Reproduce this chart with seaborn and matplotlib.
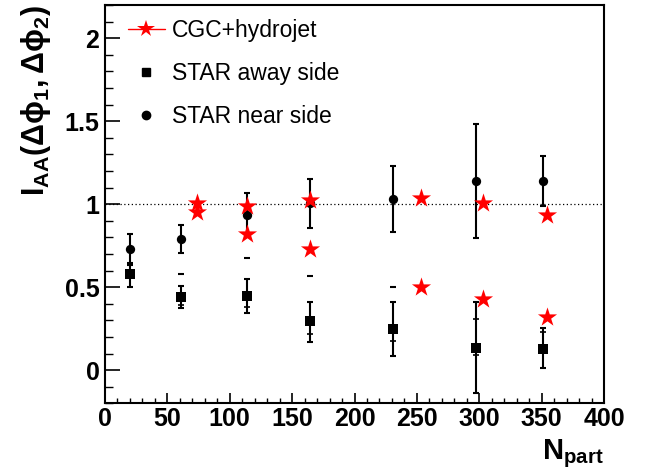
import matplotlib
matplotlib.use("Agg")
import matplotlib.pyplot as plt
from matplotlib.lines import Line2D
from matplotlib.ticker import MultipleLocator
import seaborn as sns
import pandas as pd
import numpy as np

# STAR data
npart = [20, 61, 114, 164, 231, 297, 351]
near = [0.73, 0.79, 0.935, 1.005, 1.03, 1.14, 1.14]
near_hi = [0.82, 0.875, 1.066, 1.151, 1.231, 1.48, 1.293]
near_lo = [0.647, 0.708, 0.81, 0.855, 0.835, 0.795, 0.99]
away = [0.577, 0.438, 0.446, 0.293, 0.247, 0.136, 0.128]
away_hi = [0.633, 0.507, 0.551, 0.412, 0.408, 0.408, 0.251]
away_lo = [0.50, 0.372, 0.342, 0.17, 0.084, -0.14, 0.01]

# lone dashes and inner ticks on the away side bars
dash_x = [61, 114, 164, 231]
dash_y = [0.58, 0.674, 0.567, 0.502]
tick_x = [61, 114, 164, 231, 297, 297, 351]
tick_y = [0.392, 0.38, 0.215, 0.175, 0.307, 0.09, 0.23]

# CGC+hydrojet
cgc_x = [74, 114, 164, 253, 303, 354]
cgc_near = [1.005, 0.986, 1.026, 1.036, 1.006, 0.935]
cgc_away = [0.951, 0.82, 0.73, 0.502, 0.426, 0.321]

sns.set_style("ticks")
plt.rcParams['font.family'] = ['Liberation Sans', 'DejaVu Sans']
plt.rcParams['mathtext.fontset'] = 'custom'
plt.rcParams['mathtext.rm'] = 'Liberation Sans:bold'
plt.rcParams['mathtext.it'] = 'Liberation Sans:bold'
plt.rcParams['mathtext.bf'] = 'Liberation Sans:bold'
for k in ['text.color', 'axes.labelcolor', 'xtick.color', 'ytick.color', 'axes.edgecolor']:
    plt.rcParams[k] = 'black'

fig = plt.figure(figsize=(6.49, 4.73), dpi=100)
ax = fig.add_axes([105/649, 1-403.3/473, 499/649, 398.3/473])

ax.axhline(1, color='black', ls=(0, (1, 2)), lw=0.9, zorder=1)

nr = np.array(near)
aw = np.array(away)
ax.errorbar(npart, near, yerr=[nr-np.array(near_lo), np.array(near_hi)-nr], fmt='none',
            ecolor='black', elinewidth=1.5, capsize=2, capthick=1.5, zorder=2)
ax.errorbar(npart, away, yerr=[aw-np.array(away_lo), np.array(away_hi)-aw], fmt='none',
            ecolor='black', elinewidth=1.5, capsize=2, capthick=1.5, zorder=2)
ax.plot(dash_x, dash_y, ls='none', marker='_', ms=5, mew=1.5, color='black')
ax.plot(tick_x, tick_y, ls='none', marker='_', ms=4, mew=1.2, color='black')

df_near = pd.DataFrame({'x': npart, 'y': near})
df_away = pd.DataFrame({'x': npart, 'y': away})
sns.scatterplot(data=df_near, x='x', y='y', marker='o', s=45, color='black', linewidth=0, ax=ax, zorder=3)
sns.scatterplot(data=df_away, x='x', y='y', marker='s', s=45, color='black', linewidth=0, ax=ax, zorder=3)
df_cgc = pd.DataFrame({'x': cgc_x + cgc_x, 'y': cgc_near + cgc_away})
sns.scatterplot(data=df_cgc, x='x', y='y', marker='*', s=210, color='red', linewidth=0, ax=ax, zorder=4)

ax.set_xlim(0, 400)
ax.set_ylim(-0.2, 2.2)
ax.xaxis.set_major_locator(MultipleLocator(50))
ax.xaxis.set_minor_locator(MultipleLocator(10))
ax.yaxis.set_major_locator(MultipleLocator(0.5))
ax.yaxis.set_minor_locator(MultipleLocator(0.1))
ax.tick_params(axis='x', which='major', direction='in', length=7.2, width=1.2, labelsize=18, pad=3)
ax.tick_params(axis='x', which='minor', direction='in', length=3.6, width=1.0)
ax.tick_params(axis='y', which='major', direction='in', length=10.8, width=1.2, labelsize=18, pad=4)
ax.tick_params(axis='y', which='minor', direction='in', length=5.8, width=1.0)
for lab in ax.get_xticklabels() + ax.get_yticklabels():
    lab.set_fontweight('bold')
ax.yaxis.set_major_formatter(matplotlib.ticker.FuncFormatter(lambda v, p: f"{v:g}"))
for sp in ax.spines.values():
    sp.set_linewidth(1.5)

ax.set_xlabel(r'$\mathrm{N_{part}}$', fontsize=21, loc='right', labelpad=4)
ax.set_ylabel(r'$\mathrm{I_{AA}(\Delta\phi_1,\Delta\phi_2)}$', fontsize=22, loc='top', labelpad=8)

handles = [
    Line2D([], [], color='red', lw=1, marker='*', ms=13, mew=0),
    Line2D([], [], color='black', ls='none', marker='s', ms=6),
    Line2D([], [], color='black', ls='none', marker='o', ms=6),
]
ax.legend(handles, ['CGC+hydrojet', 'STAR away side', 'STAR near side'], loc='upper left',
          bbox_to_anchor=(0.005, 1.017), frameon=False, fontsize=16.5, handlelength=1.6,
          labelspacing=0.88, handletextpad=0.3)

fig.savefig('out.png', dpi=100)
